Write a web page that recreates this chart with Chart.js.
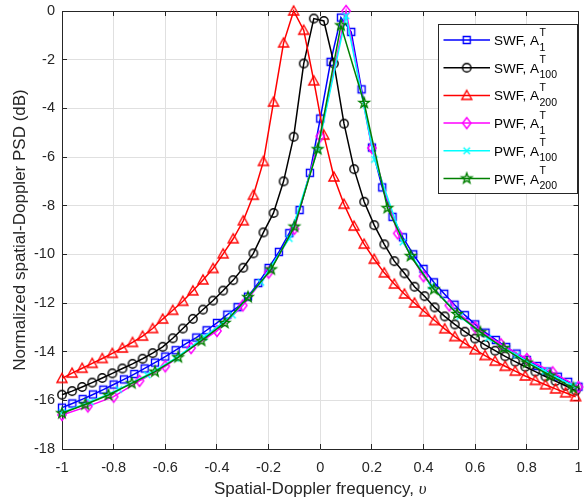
<!DOCTYPE html>
<html>
<head>
<meta charset="utf-8">
<script src="https://cdn.jsdelivr.net/npm/chart.js@4.4.1/dist/chart.umd.min.js"></script>
<style>
  html, body { margin: 0; padding: 0; background: #fff; }
  #wrap { width: 584px; height: 502px; }
</style>
</head>
<body>
<div id="wrap"><canvas id="myChart" width="584" height="502"></canvas></div>
<script>
// axis ticks
var xTicks = [-1, -0.8, -0.6, -0.4, -0.2, 0, 0.2, 0.4, 0.6, 0.8, 1];
var xTickLabels = ['-1', '-0.8', '-0.6', '-0.4', '-0.2', '0', '0.2', '0.4', '0.6', '0.8', '1'];
var yTicks = [0, -2, -4, -6, -8, -10, -12, -14, -16, -18];
var yTickLabels = ['0', '-2', '-4', '-6', '-8', '-10', '-12', '-14', '-16', '-18'];

// frequency samples of each curve
var swfA1Freq = [-1, -0.96, -0.92, -0.88, -0.84, -0.8, -0.76, -0.72, -0.68, -0.64,
  -0.6, -0.56, -0.52, -0.48, -0.44, -0.4, -0.36, -0.32, -0.28, -0.24,
  -0.2, -0.16, -0.12, -0.08, -0.04, 0, 0.04, 0.08, 0.12, 0.16,
  0.2, 0.24, 0.28, 0.32, 0.36, 0.4, 0.44, 0.48, 0.52, 0.56,
  0.6, 0.64, 0.68, 0.72, 0.76, 0.8, 0.84, 0.88, 0.92, 0.96, 1];
var swfA100Freq = [-1, -0.961, -0.922, -0.883, -0.844, -0.805, -0.766, -0.727, -0.688, -0.649,
  -0.61, -0.571, -0.532, -0.493, -0.454, -0.415, -0.376, -0.337, -0.298, -0.259,
  -0.22, -0.181, -0.142, -0.103, -0.064, -0.025, 0.014, 0.053, 0.092, 0.131,
  0.17, 0.209, 0.248, 0.287, 0.326, 0.365, 0.404, 0.443, 0.482, 0.521,
  0.56, 0.599, 0.638, 0.677, 0.716, 0.755, 0.794, 0.833, 0.872, 0.911, 0.95, 0.989];
var swfA200Freq = swfA100Freq;
var pwfA1Freq = [-1, -0.9, -0.8, -0.7, -0.6, -0.5, -0.4, -0.3, -0.2, -0.1, 0,
  0.1, 0.2, 0.3, 0.4, 0.5, 0.6, 0.7, 0.8, 0.9, 1];
var pwfA100Freq = [-1, -0.89, -0.78, -0.67, -0.56, -0.45, -0.34, -0.23, -0.12, -0.01,
  0.1, 0.21, 0.32, 0.43, 0.54, 0.65, 0.76, 0.87, 0.98];
var pwfA200Freq = [-1, -0.91, -0.82, -0.73, -0.64, -0.55, -0.46, -0.37, -0.28, -0.19, -0.1, -0.01,
  0.08, 0.17, 0.26, 0.35, 0.44, 0.53, 0.62, 0.71, 0.8, 0.89, 0.98];

// normalized PSD (dB)
var swfA1 = [-16.3, -16.13, -15.95, -15.76, -15.56, -15.35, -15.14, -14.92, -14.69, -14.45,
  -14.2, -13.94, -13.67, -13.42, -13.12, -12.82, -12.48, -12.17, -11.74, -11.18,
  -10.56, -9.9, -9.13, -8.18, -6.65, -4.42, -2.09, -0.27, -0.86, -3.22,
  -5.61, -7.25, -8.46, -9.3, -10.0, -10.6, -11.15, -11.62, -12.07, -12.5,
  -12.88, -13.22, -13.52, -13.81, -14.08, -14.34, -14.59, -14.82, -15.03, -15.24, -15.44];
var swfA100 = [-15.77, -15.62, -15.45, -15.27, -15.08, -14.89, -14.69, -14.5, -14.29, -14.06,
  -13.8, -13.45, -13.05, -12.65, -12.27, -11.9, -11.49, -11.06, -10.55, -9.96,
  -9.1, -8.3, -7.0, -5.17, -2.16, -0.31, -0.41, -2.16, -4.63, -6.5,
  -7.84, -8.8, -9.59, -10.28, -10.78, -11.33, -11.72, -12.18, -12.55, -12.88,
  -13.18, -13.46, -13.72, -13.96, -14.19, -14.41, -14.62, -14.82, -15.02, -15.21, -15.4, -15.6];
var swfA200 = [-15.1, -14.88, -14.68, -14.48, -14.28, -14.07, -13.85, -13.62, -13.36, -13.05,
  -12.66, -12.3, -11.93, -11.5, -11.05, -10.58, -9.98, -9.36, -8.62, -7.57,
  -6.18, -3.74, -1.31, 0, -0.79, -2.87, -5.1, -6.82, -7.94, -8.84,
  -9.58, -10.2, -10.76, -11.22, -11.63, -12.0, -12.36, -12.72, -13.06, -13.38,
  -13.66, -13.92, -14.16, -14.39, -14.6, -14.8, -15.0, -15.18, -15.36, -15.53, -15.69, -15.85];
var pwfA1 = [-16.6, -16.25, -15.85, -15.2, -14.6, -13.85, -13.15, -12.1, -10.75, -8.95, -5.15,
  0, -5.63, -9.14, -10.9, -12.1, -13.0, -13.7, -14.3, -14.85, -15.45];
var pwfA100 = [-16.5, -16.07, -15.55, -14.96, -14.27, -13.4, -12.5, -11.15, -9.35, -5.7,
  -0.2, -6.1, -9.5, -11.3, -12.55, -13.45, -14.15, -14.8, -15.4];
var pwfA200 = [-16.53, -16.17, -15.78, -15.3, -14.82, -14.23, -13.55, -12.82, -11.76, -10.62, -8.86, -5.68,
  -0.59, -3.78, -8.1, -10.07, -11.44, -12.45, -13.2, -13.85, -14.45, -14.98, -15.5];

var legendNames = ['SWF', 'SWF', 'SWF', 'PWF', 'PWF', 'PWF'];
var legendSubs = ['1', '100', '200', '1', '100', '200'];

var FONT = '"Liberation Sans", Arial, sans-serif';
var AXIS_COLOR = '#262626';

// matlab style open markers
function makeMarker(kind, color) {
  var c = document.createElement('canvas');
  c.width = 16; c.height = 16;
  var g = c.getContext('2d');
  var m = 8;
  g.strokeStyle = color;
  g.lineWidth = 1.4;
  g.beginPath();
  if (kind === 'square') {
    g.rect(m - 3.5, m - 3.5, 7, 7);
  } else if (kind === 'circle') {
    g.arc(m, m, 4.2, 0, Math.PI * 2);
  } else if (kind === 'triangle') {
    g.moveTo(m, m - 5); g.lineTo(m + 5, m + 4); g.lineTo(m - 5, m + 4); g.closePath();
  } else if (kind === 'diamond') {
    g.moveTo(m, m - 5.5); g.lineTo(m + 4.2, m); g.lineTo(m, m + 5.5); g.lineTo(m - 4.2, m); g.closePath();
  } else if (kind === 'x') {
    g.moveTo(m - 3.2, m - 3.2); g.lineTo(m + 3.2, m + 3.2);
    g.moveTo(m + 3.2, m - 3.2); g.lineTo(m - 3.2, m + 3.2);
  } else if (kind === 'star') {
    for (var i = 0; i < 10; i++) {
      var r = i % 2 ? 2.2 : 5.4;
      var a = -Math.PI / 2 + i * Math.PI / 5;
      if (i === 0) g.moveTo(m + r * Math.cos(a), m + r * Math.sin(a));
      else g.lineTo(m + r * Math.cos(a), m + r * Math.sin(a));
    }
    g.closePath();
  }
  g.stroke();
  return c;
}

function pts(xs, ys) {
  return xs.map(function (x, i) { return {x: x, y: ys[i]}; });
}

function series(xs, ys, color, marker, order) {
  return {
    data: pts(xs, ys),
    borderColor: color,
    backgroundColor: color,
    borderWidth: 1.5,
    pointStyle: makeMarker(marker, color),
    pointRadius: 4,
    tension: 0,
    clip: false,
    order: order
  };
}

var boxPlugin = {
  id: 'mbox',
  beforeDatasetsDraw: function (chart) {
    var a = chart.chartArea, ctx = chart.ctx;
    var xs = chart.scales.x, ys = chart.scales.y;
    function px(v) { return Math.floor(v) + 0.5; }
    ctx.save();
    ctx.strokeStyle = AXIS_COLOR;
    ctx.lineWidth = 1;
    ctx.beginPath();
    ctx.rect(px(a.left), px(a.top), px(a.right) - px(a.left), px(a.bottom) - px(a.top));
    xTicks.forEach(function (v) {
      var x = px(xs.getPixelForValue(v));
      ctx.moveTo(x, a.bottom); ctx.lineTo(x, a.bottom - 5);
      ctx.moveTo(x, a.top); ctx.lineTo(x, a.top + 5);
    });
    yTicks.forEach(function (v) {
      var y = px(ys.getPixelForValue(v));
      ctx.moveTo(a.left, y); ctx.lineTo(a.left + 5, y);
      ctx.moveTo(a.right, y); ctx.lineTo(a.right - 5, y);
    });
    ctx.stroke();

    // x axis title, the symbol in italic serif as in the original
    var a1 = 'Spatial-Doppler frequency, ';
    ctx.fillStyle = AXIS_COLOR;
    ctx.textBaseline = 'alphabetic';
    ctx.textAlign = 'left';
    ctx.font = '17px ' + FONT;
    var w1 = ctx.measureText(a1).width;
    ctx.font = 'italic 17px "Liberation Serif", "DejaVu Serif", serif';
    var w2 = ctx.measureText('\u03c5').width;
    var x0 = (a.left + a.right) / 2 - (w1 + w2) / 2;
    ctx.font = '17px ' + FONT;
    ctx.fillText(a1, x0, 493.5);
    ctx.font = 'italic 17px "Liberation Serif", "DejaVu Serif", serif';
    ctx.fillText('\u03c5', x0 + w1, 493.5);
    ctx.restore();
  }
};

var legendPlugin = {
  id: 'mlegend',
  afterDraw: function (chart) {
    var ctx = chart.ctx;
    ctx.save();
    ctx.fillStyle = '#fff';
    ctx.fillRect(438.5, 24.5, 139, 169);
    ctx.strokeStyle = AXIS_COLOR;
    ctx.lineWidth = 1;
    ctx.strokeRect(438.5, 24.5, 139, 169);
    chart.data.datasets.forEach(function (ds, i) {
      var y = 40 + i * 27.7;
      ctx.strokeStyle = ds.borderColor;
      ctx.lineWidth = ds.borderWidth;
      ctx.beginPath();
      ctx.moveTo(443.5, y); ctx.lineTo(490, y);
      ctx.stroke();
      var img = ds.pointStyle;
      ctx.drawImage(img, 466.7 - img.width / 2, y - img.height / 2);
      ctx.fillStyle = '#000';
      ctx.textBaseline = 'alphabetic';
      ctx.textAlign = 'left';
      ctx.font = '13.5px ' + FONT;
      var txt = legendNames[i] + ', A';
      ctx.fillText(txt, 494, y + 5);
      var w = ctx.measureText(txt).width;
      ctx.font = '10.5px ' + FONT;
      ctx.fillText('T', 494 + w + 0.5, y - 4.5);
      ctx.fillText(legendSubs[i], 494 + w + 0.5, y + 10.5);
    });
    ctx.restore();
  }
};

var ctx = document.getElementById('myChart').getContext('2d');
var myChart = new Chart(ctx, {
  type: 'line',
  data: {
    datasets: [
      series(swfA1Freq, swfA1, '#0000ff', 'square', 5),
      series(swfA100Freq, swfA100, '#000000', 'circle', 4),
      series(swfA200Freq, swfA200, '#ff0000', 'triangle', 3),
      series(pwfA1Freq, pwfA1, '#ff00ff', 'diamond', 2),
      series(pwfA100Freq, pwfA100, '#00ffff', 'x', 1),
      series(pwfA200Freq, pwfA200, '#008000', 'star', 0)
    ]
  },
  options: {
    responsive: false,
    animation: false,
    events: [],
    layout: { padding: { top: 11, right: 2, left: 0, bottom: 0 } },
    plugins: {
      legend: { display: false },
      tooltip: { enabled: false }
    },
    scales: {
      x: {
        type: 'linear',
        min: -1,
        max: 1,
        afterBuildTicks: function (scale) {
          scale.ticks = xTicks.map(function (v) { return {value: v}; });
        },
        afterFit: function (scale) {
          scale.height = 53;
          scale.paddingLeft = 0;
          scale.paddingRight = 0;
        },
        ticks: {
          autoSkip: false,
          maxRotation: 0,
          padding: 10,
          color: AXIS_COLOR,
          font: { family: FONT, size: 14.5 },
          callback: function (v, i) { return xTickLabels[i]; }
        },
        grid: { color: '#e0e0e0', drawTicks: false },
        border: { display: false }
      },
      y: {
        type: 'linear',
        min: -18,
        max: 0,
        afterBuildTicks: function (scale) {
          scale.ticks = yTicks.map(function (v) { return {value: v}; });
        },
        afterFit: function (scale) {
          scale.width = 62;
          scale.paddingTop = 0;
          scale.paddingBottom = 0;
        },
        ticks: {
          autoSkip: false,
          padding: 7,
          color: AXIS_COLOR,
          font: { family: FONT, size: 14.5 },
          callback: function (v, i) { return yTickLabels[i]; }
        },
        grid: { color: '#e0e0e0', drawTicks: false },
        border: { display: false },
        title: {
          display: true,
          text: 'Normalized spatial-Doppler PSD (dB)',
          color: AXIS_COLOR,
          font: { family: FONT, size: 17 },
          padding: { top: 10, bottom: 0 }
        }
      }
    }
  },
  plugins: [boxPlugin, legendPlugin]
});
</script>
</body>
</html>
